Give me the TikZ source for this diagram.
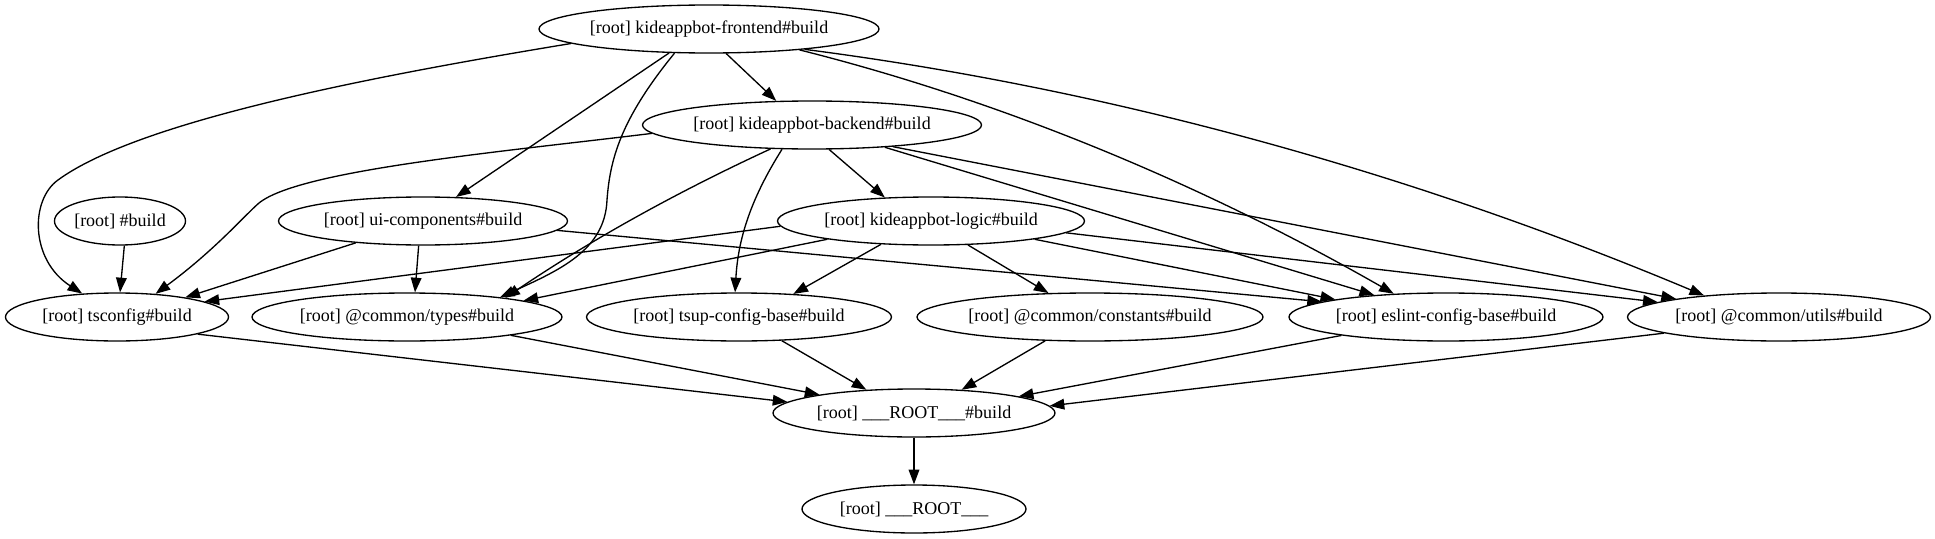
\documentclass[tikz,border=0pt]{standalone}
\usepackage{fontspec}
\setmainfont{Liberation Serif}
\usetikzlibrary{shapes.geometric, arrows.meta}

\begin{document}
\begin{tikzpicture}[x=0.75pt, y=-0.75pt,
    task/.style={ellipse, draw, line width=1pt, minimum height=36pt,
        inner xsep=-30pt, inner ysep=0pt, font=\fontsize{13.5}{16}\selectfont},
    dep/.style={-{Triangle[length=11pt,width=8pt]}, line width=1pt}]
    \useasboundingbox (0,0) rectangle (1935,539);

    % tasks, rank by rank
    \node[task, minimum width=255pt] (fe) at (709,29) {[root] kideappbot-frontend\#build};

    \node[task, minimum width=254.25pt] (be) at (812,125) {[root] kideappbot-backend\#build};

    \node[task, minimum width=98.25pt] (hb) at (120,221) {[root] \#build};
    \node[task, minimum width=216.75pt] (ui) at (423,221) {[root] ui-components\#build};
    \node[task, minimum width=230.25pt] (lg) at (931,221) {[root] kideappbot-logic\#build};

    \node[task, minimum width=167.25pt] (ts) at (117,317) {[root] tsconfig\#build};
    \node[task, minimum width=232.5pt] (ty) at (407,317) {[root] @common/types\#build};
    \node[task, minimum width=228.75pt] (tp) at (739,317) {[root] tsup-config-base\#build};
    \node[task, minimum width=259.5pt] (co) at (1090,317) {[root] @common/constants\#build};
    \node[task, minimum width=235.5pt] (es) at (1446,317) {[root] eslint-config-base\#build};
    \node[task, minimum width=227.25pt] (ut) at (1779,317) {[root] @common/utils\#build};

    \node[task, minimum width=211.5pt] (rb) at (914,413) {[root] \_\_\_ROOT\_\_\_\#build};
    \node[task, minimum width=168pt] (rt) at (914,509) {[root] \_\_\_ROOT\_\_\_};

    % frontend
    \draw[dep] (fe.186) .. controls (380,75) and (140,120) .. (58,180)
        .. controls (30,200) and (30,260) .. (ts.146);
    \draw[dep] (fe.211) -- (ui.36);
    \draw[dep] (fe.215) .. controls (620,120) and (610,160) .. (607,200)
        .. controls (605,250) and (560,270) .. (ty.12);
    \draw[dep] (fe.305) -- (be.146);
    \draw[dep] (fe.347) .. controls (995,99) and (1195,180) .. (es.156);
    \draw[dep] (fe.348) .. controls (1104,88) and (1405,170) .. (ut.164);

    % backend
    \draw[dep] (be.183) .. controls (500,152) and (300,170) .. (259,203)
        .. controls (245,215) and (215,250) .. (ts.31);
    \draw[dep] (be.210) .. controls (688,187) and (598,235) .. (ty.11);
    \draw[dep] (be.219) .. controls (750,200) and (738,240) .. (tp.99);
    \draw[dep] (be.305) -- (lg.153);
    \draw[dep] (be.343) -- (es.163);
    \draw[dep] (be.345) -- (ut.170);

    % third rank
    \draw[dep] (hb.280) -- (ts.83);
    \draw[dep] (ui.198) -- (ts.16);
    \draw[dep] (ui.260) -- (ty.72);
    \draw[dep] (ui.356) -- (es.173);
    \draw[dep] (lg.182) -- (ts.10);
    \draw[dep] (lg.190) -- (ty.8);
    \draw[dep] (lg.205) -- (tp.23);
    \draw[dep] (lg.327) -- (co.150);
    \draw[dep] (lg.350) -- (es.171);
    \draw[dep] (lg.355) -- (ut.173);

    % into the root
    \draw[dep] (ts.348) -- (rb.175);
    \draw[dep] (ty.350) -- (rb.169);
    \draw[dep] (tp.331) -- (rb.154);
    \draw[dep] (co.208) -- (rb.26);
    \draw[dep] (es.190) -- (rb.9);
    \draw[dep] (ut.188) -- (rb.3);
    \draw[dep] (rb) -- (rt);
\end{tikzpicture}
\end{document}
